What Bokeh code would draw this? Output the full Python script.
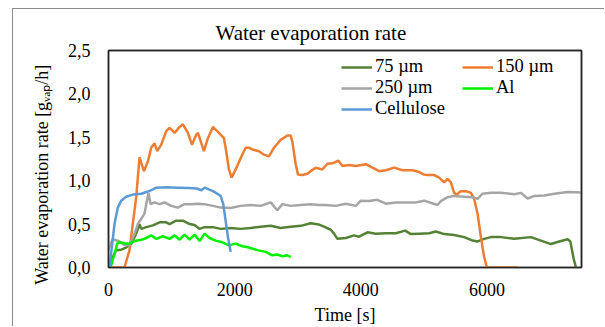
from bokeh.plotting import figure
from bokeh.models import Range1d, FixedTicker, Legend, LegendItem, LinearAxis
from bokeh.embed import file_html
from bokeh.resources import INLINE

# ---------------- data ----------------
t_75 = [16, 69, 122, 201, 280, 360, 439, 492, 519, 598,
        704, 810, 915, 968, 1074, 1180, 1286, 1365, 1444, 1524,
        1656, 1778, 1937, 2095, 2254, 2413, 2571, 2730, 2889, 3048,
        3206, 3338, 3418, 3524, 3577, 3630, 3762, 3894, 3973, 4106,
        4238, 4397, 4556, 4704, 4794, 4926, 5085, 5190, 5323, 5481,
        5640, 5773, 5852, 5957, 6063, 6222, 6434, 6698, 6857, 7016,
        7148, 7281, 7323, 7376, 7412]
v_75 = [0, 0.12, 0.2, 0.205, 0.23, 0.27, 0.39, 0.50, 0.445, 0.465,
        0.485, 0.52, 0.52, 0.50, 0.54, 0.54, 0.50, 0.49, 0.445, 0.465,
        0.465, 0.445, 0.455, 0.445, 0.455, 0.47, 0.48, 0.455, 0.47, 0.48,
        0.51, 0.495, 0.47, 0.435, 0.39, 0.33, 0.34, 0.37, 0.355, 0.405,
        0.39, 0.395, 0.395, 0.425, 0.385, 0.39, 0.395, 0.415, 0.385, 0.375,
        0.35, 0.31, 0.30, 0.33, 0.35, 0.35, 0.33, 0.35, 0.31, 0.27,
        0.30, 0.325, 0.30, 0.10, 0]

t_150 = [0, 254, 333, 439, 492, 561, 624, 677, 730, 772,
         836, 915, 968, 1048, 1127, 1180, 1259, 1323, 1392, 1418,
         1513, 1577, 1656, 1751, 1830, 1857, 1910, 1952, 2016, 2095,
         2175, 2227, 2280, 2386, 2466, 2545, 2624, 2730, 2836, 2889,
         2915, 2968, 3005, 3074, 3154, 3206, 3286, 3391, 3471, 3550,
         3646, 3709, 3815, 3921, 4080, 4185, 4291, 4397, 4529, 4661,
         4820, 4926, 5005, 5058, 5164, 5243, 5323, 5376, 5429, 5481,
         5524, 5577, 5667, 5746, 5799, 5852, 5905, 5957, 6000, 6490]
v_150 = [0, 0, 0.2, 0.81, 1.27, 1.11, 1.22, 1.38, 1.43, 1.34,
         1.415, 1.57, 1.61, 1.55, 1.62, 1.65, 1.55, 1.415, 1.53, 1.55,
         1.34, 1.49, 1.62, 1.55, 1.49, 1.38, 1.13, 1.035, 1.13, 1.26,
         1.38, 1.38, 1.36, 1.34, 1.30, 1.28, 1.38, 1.47, 1.52, 1.52,
         1.45, 1.19, 1.07, 1.065, 1.08, 1.11, 1.15, 1.13, 1.195, 1.20,
         1.23, 1.17, 1.18, 1.17, 1.19, 1.15, 1.11, 1.12, 1.15, 1.12,
         1.12, 1.10, 1.07, 1.065, 1.065, 1.035, 0.98, 1.02, 0.98, 0.86,
         0.84, 0.875, 0.88, 0.86, 0.79, 0.62, 0.35, 0.12, 0, 0]

t_250 = [0, 60, 95, 175, 254, 333, 413, 466, 519, 571,
         598, 635, 667, 730, 810, 889, 995, 1100, 1206, 1312,
         1418, 1524, 1656, 1778, 1937, 2095, 2254, 2413, 2571, 2677,
         2757, 2889, 3048, 3206, 3338, 3444, 3603, 3762, 3921, 4000,
         4132, 4265, 4397, 4556, 4714, 4873, 5005, 5217, 5270, 5376,
         5481, 5640, 5773, 5852, 5931, 6063, 6222, 6434, 6540, 6646,
         6752, 6910, 7069, 7281, 7500]
v_250 = [0.2, 0.32, 0.32, 0.30, 0.255, 0.255, 0.39, 0.50, 0.56, 0.62,
         0.73, 0.86, 0.73, 0.75, 0.73, 0.75, 0.71, 0.69, 0.73, 0.73,
         0.735, 0.73, 0.71, 0.69, 0.685, 0.71, 0.72, 0.71, 0.75, 0.66,
         0.73, 0.71, 0.72, 0.73, 0.72, 0.72, 0.71, 0.735, 0.71, 0.77,
         0.765, 0.78, 0.735, 0.75, 0.75, 0.75, 0.77, 0.72, 0.765, 0.81,
         0.825, 0.815, 0.81, 0.79, 0.85, 0.86, 0.86, 0.845, 0.86, 0.795,
         0.825, 0.83, 0.85, 0.87, 0.865]

t_al = [32, 85, 138, 175, 254, 333, 413, 519, 571, 677,
        757, 862, 968, 1048, 1127, 1206, 1286, 1365, 1444, 1524,
        1603, 1698, 1804, 1910, 2016, 2122, 2227, 2360, 2492, 2598,
        2677, 2757, 2836, 2889]
v_al = [0, 0.125, 0.275, 0.29, 0.28, 0.275, 0.305, 0.32, 0.33, 0.37,
        0.33, 0.36, 0.33, 0.37, 0.32, 0.38, 0.32, 0.38, 0.305, 0.39,
        0.34, 0.31, 0.29, 0.255, 0.275, 0.245, 0.23, 0.2, 0.18, 0.14,
        0.15, 0.13, 0.14, 0.12]

t_cel = [16, 53, 95, 148, 201, 280, 386, 519, 624, 704,
         757, 915, 1100, 1259, 1400, 1471, 1524, 1656, 1725, 1778,
         1820, 1857, 1894, 1937]
v_cel = [0, 0.235, 0.50, 0.69, 0.77, 0.815, 0.84, 0.85, 0.875, 0.90,
         0.92, 0.925, 0.92, 0.915, 0.91, 0.89, 0.92, 0.88, 0.85, 0.825,
         0.73, 0.54, 0.35, 0.18]

series_names = ["75 µm", "150 µm", "250 µm", "Al", "Cellulose"]
series_colors = ["#548235", "#ED7D31", "#A5A5A5", "#00F000", "#5B9BD5"]

x_ticks = [0, 2000, 4000, 6000]
y_ticks = [0.0, 0.5, 1.0, 1.5, 2.0, 2.5]
y_tick_labels = ["0,0", "0,5", "1,0", "1,5", "2,0", "2,5"]

title_text = "Water evaporation rate"
x_label = "Time [s]"
y_label = "Water evaporation rate [g\u1d65\u2090\u209a/h]"

FONT = "Liberation Serif"
FRAME_COLOR = "#262626"

# ---------------- figure ----------------
p = figure(width=592, height=318, x_range=Range1d(0, 7500), y_range=Range1d(0, 2.5),
           output_backend="svg", toolbar_location=None,
           min_border_left=95, min_border_right=24, min_border_top=41, min_border_bottom=58,
           styles={"margin-left": "12px", "margin-top": "8px",
                   "border-left": "1px solid #8c8c8c", "border-top": "1px solid #8c8c8c"})
p.background_fill_color = "white"
p.border_fill_color = "white"
p.outline_line_color = FRAME_COLOR
p.outline_line_width = 1.5
p.xgrid.visible = False
p.ygrid.visible = False

p.title.text = title_text
p.title.text_font = FONT
p.title.text_font_size = "21px"
p.title.text_font_style = "normal"
p.title.text_color = "black"
p.title.align = "left"
p.title.offset = 107
p.title.standoff = 11

for ax in (p.xaxis[0], p.yaxis[0]):
    ax.axis_line_color = FRAME_COLOR
    ax.axis_line_width = 1.5
    ax.major_tick_line_color = None
    ax.minor_tick_line_color = None
    ax.major_tick_in = 0
    ax.major_tick_out = 0
    ax.major_label_text_font = FONT
    ax.major_label_text_font_size = "18px"
    ax.major_label_text_color = "black"
    ax.axis_label_text_font = FONT
    ax.axis_label_text_font_size = "18px"
    ax.axis_label_text_font_style = "normal"
    ax.axis_label_text_color = "black"

p.xaxis.ticker = FixedTicker(ticks=x_ticks)
p.xaxis.major_label_standoff = 15
p.xaxis.axis_label = x_label
p.xaxis.axis_label_standoff = 6

p.yaxis.ticker = FixedTicker(ticks=y_ticks)
p.yaxis.major_label_overrides = {k: v for k, v in zip(y_ticks, y_tick_labels)}
p.yaxis.major_label_standoff = 18
# trailing no-break spaces shift the label toward the bottom, as in the reference
p.yaxis.axis_label = y_label + "\u00a0" * 7
p.yaxis.axis_label_standoff = 13

# top and right edges of the plot frame as bare axes
for side in ("above", "right"):
    ax = LinearAxis(ticker=FixedTicker(ticks=[]), axis_line_color=FRAME_COLOR, axis_line_width=1.5,
                    major_tick_line_color=None, minor_tick_line_color=None,
                    major_tick_in=0, major_tick_out=0, major_label_text_font_size="0px",
                    major_label_standoff=0)
    p.add_layout(ax, side)

data = [(t_75, v_75), (t_150, v_150), (t_250, v_250), (t_al, v_al), (t_cel, v_cel)]
renderers = []
for (tx, vy), name, col in zip(data, series_names, series_colors):
    r = p.line(tx, vy, line_color=col, line_width=2.5)
    renderers.append(r)


# legends: two columns, rows in row-major order
def make_legend(idxs, x, bottom):
    lg = Legend(items=[LegendItem(label=series_names[i], renderers=[renderers[i]]) for i in idxs],
                location=(x, bottom), orientation="vertical",
                background_fill_alpha=0, border_line_color=None,
                padding=0, margin=0, spacing=0,
                glyph_width=31, glyph_height=20, label_height=20, label_standoff=3,
                label_text_font=FONT, label_text_font_size="18.5px", label_text_color="black",
                label_text_baseline="middle")
    p.add_layout(lg, "center")
    return lg


make_legend([0, 2, 4], 233, 148)
make_legend([1, 3], 354, 169)

open("out.html", "w").write(file_html(p, INLINE))
